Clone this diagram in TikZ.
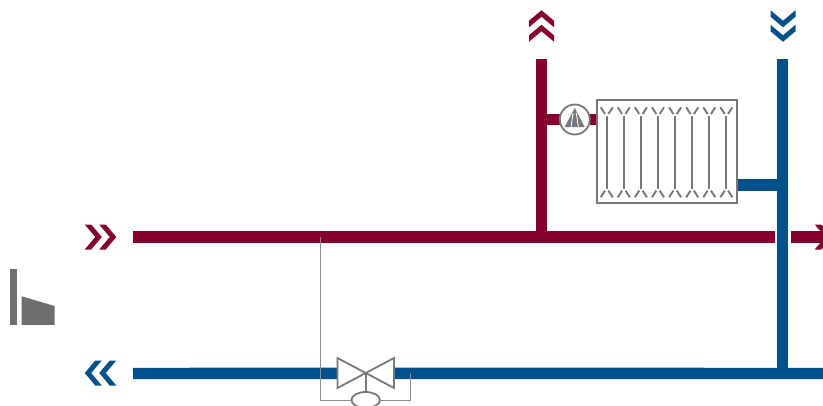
\documentclass[tikz,border=0pt]{standalone}
\usetikzlibrary{shapes.geometric}
\definecolor{wine}{HTML}{85002F}
\definecolor{navy}{HTML}{00508A}
\definecolor{steel}{HTML}{77787B}
\definecolor{coal}{HTML}{6F6F72}
\begin{document}
\begin{tikzpicture}[x=1pt,y=-1pt,
 pipe/.style={line width=11.4pt},
 feed/.style={pipe,draw=wine},
 return/.style={pipe,draw=navy},
 part/.style={draw=steel,line width=1.8pt,fill=white},
 thin/.style={draw=steel!85,line width=1pt},
 rib/.style={draw=steel,line width=1.9pt},
 chevrons/.pic={
  \fill (-15.75,-12.5)--(-9.25,-12.5)--(1.25,0)--(-9.25,12.5)--(-15.75,12.5)--(-5.25,0)--cycle;
  \fill (-1.25,-12.5)--(5.25,-12.5)--(15.75,0)--(5.25,12.5)--(-1.25,12.5)--(9.25,0)--cycle;}]
\clip (0,0) rectangle (823,405);
% pipe ends
\coordinate (feedin) at (133,237);
\coordinate (feedstop) at (775,237);
\coordinate (feedgo) at (791,237);
\coordinate (feedout) at (823,237);
\coordinate (backin) at (133,373.5);
\coordinate (backout) at (823,373.5);
\coordinate (risertop) at (541.5,59);
\coordinate (risertee) at (541.5,237);
\coordinate (droptop) at (782.7,59);
\coordinate (droptee) at (782.7,379.2);
\coordinate (branchtee) at (541.5,119.5);
\coordinate (draintee) at (782.7,185);
\coordinate (valvemid) at (365.7,373.3);
\coordinate (valveL) at (337.5,373.3);
\coordinate (valveR) at (394,373.3);
\coordinate (tapfeed) at (320,237);
\coordinate (tapcorner) at (320,400);
\coordinate (tapback) at (410,373);
\coordinate (tapturn) at (410,400);
% pipes
\draw[feed] (feedin)--(feedstop);
\draw[feed] (feedgo)--(feedout);
\draw[feed] (risertop)--(risertee);
\draw[feed] (branchtee)--(597,119.5);
\draw[return] (backin)--(valveL);
\draw[return] (valveR)--(backout);
\draw[return] (droptop)--(droptee);
% radiator
\node[draw=steel,line width=1.8pt,fill=white,minimum width=140pt,minimum height=103pt,inner sep=0pt] (rad) at (667.2,151.3) {};
\draw[return] (rad.east|-draintee)--(draintee);
\foreach \i in {0,...,7}{
 \draw[rib] (606.7+17.1*\i,116)--(606.7+17.1*\i,188.7);
 \draw[rib] (600.7+17.1*\i,107.3)--(605+17.1*\i,114);
 \draw[rib] (612.7+17.1*\i,107.3)--(608.4+17.1*\i,114);
 \draw[rib] (600.7+17.1*\i,197.3)--(605+17.1*\i,190.6);
 \draw[rib] (612.7+17.1*\i,197.3)--(608.4+17.1*\i,190.6);
}
% pump
\node[circle,part,minimum size=30pt,inner sep=0pt] (pump) at (574.8,119.5) {};
\fill[steel] (574.7,108)--(584.7,127)--(564.7,127)--cycle;
\draw[white,line width=.9pt] (573,113)--(571,127.5);
\draw[white,line width=.9pt] (576.4,113)--(578.4,127.5);
% valve
\draw[part] (valveL|-0,358)--(valveR|-0,388)--(valveR|-0,358)--(valveL|-0,388)--cycle;
\node[ellipse,part,minimum width=28.5pt,minimum height=16pt,inner sep=0pt] (drive) at (365.7,400) {};
\draw[steel,line width=1.8pt] (valvemid)--(drive.north);
\draw[thin] (tapfeed)--(tapcorner)--(drive.west);
\draw[thin] (tapback)--(tapturn)--(drive.east);
% plant
\fill[coal] (10,269) rectangle (17,325);
\fill[coal] (21.7,296.3)--(54.7,306)--(54.7,324.8)--(21.7,324.8)--cycle;
% flow marks
\pic[wine] at (100.5,237) {chevrons};
\pic[wine] at (830.5,237) {chevrons};
\pic[navy,rotate=180] at (100.5,373) {chevrons};
\pic[wine,rotate=90] at (541.5,26) {chevrons};
\pic[navy,rotate=-90] at (783,26) {chevrons};
\end{tikzpicture}
\end{document}
